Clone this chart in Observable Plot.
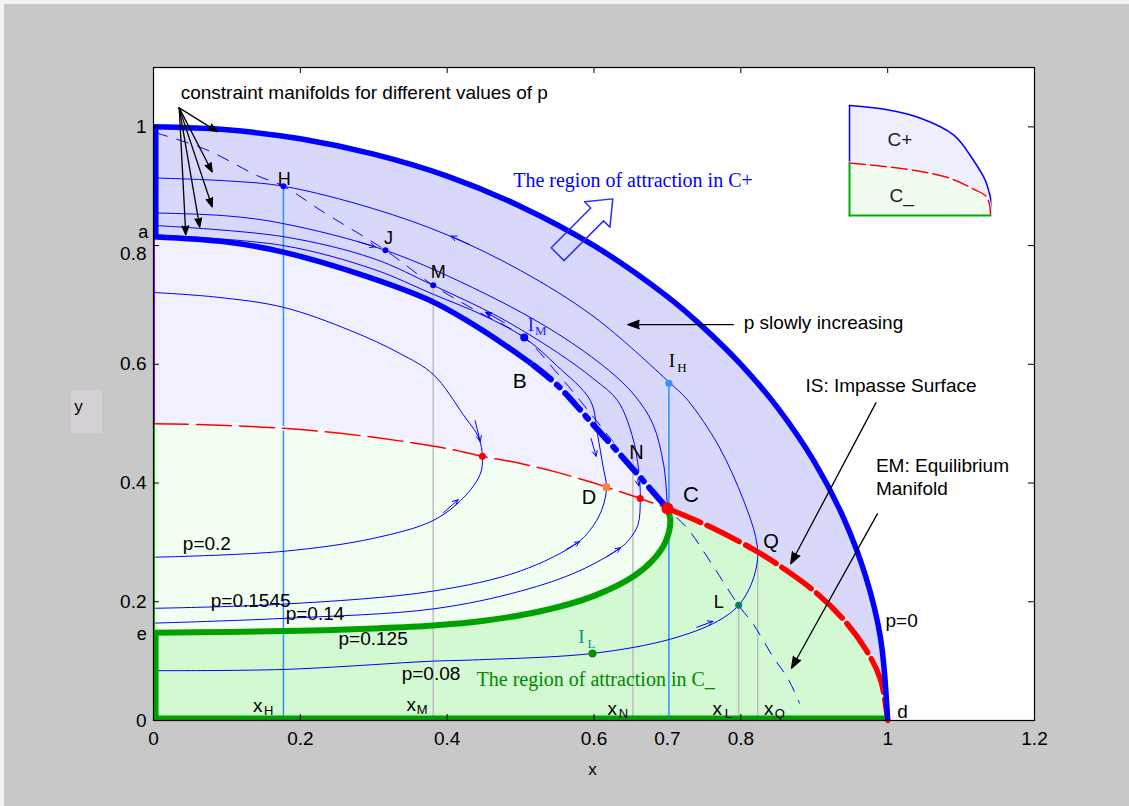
<!DOCTYPE html>
<html>
<head>
<meta charset="utf-8">
<script src="https://cdn.jsdelivr.net/npm/d3@7"></script>
<script src="https://cdn.jsdelivr.net/npm/@observablehq/plot@0.6"></script>
<style>
  html, body { margin: 0; padding: 0; background: #c8c8c8; }
  #wrap { position: relative; width: 1129px; height: 806px; overflow: hidden; background: #c8c8c8; }
  #wrap svg { display: block; overflow: visible; }
  #main { position: absolute; left: 0; top: 0; z-index: 2; }
  #inset { position: absolute; left: 840px; top: 95px; z-index: 3; }
  .edge-top { position: absolute; left: 0; top: 0; width: 1129px; height: 4px; background: #f4f4f4; z-index: 1; }
  .edge-left { position: absolute; left: 0; top: 0; width: 4px; height: 806px; background: #f4f4f4; z-index: 1; }
  .ybox { position: absolute; left: 71px; top: 390px; width: 31px; height: 43px; background: #d5d0d5; z-index: 1; }
</style>
</head>
<body>
<div id="wrap">
  <div class="edge-top"></div>
  <div class="edge-left"></div>
  <div class="ybox"></div>
  <div id="main"></div>
  <div id="inset"></div>
</div>
<script>
// ---------- axes ----------
const xTicks = [0, 0.2, 0.4, 0.6, 0.8, 1, 1.2];
const xTickLabels = [0, 0.2, 0.4, 0.6, 0.7, 0.8, 1, 1.2];
const yTicks = [0, 0.2, 0.4, 0.6, 0.8, 1];
const yTickLabels = [0, 0.2, 0.4, 0.6, 1];
const yTickLabelsLowered = [0.8];

// ---------- manifolds ----------
// p = 0 constraint manifold: outer boundary of the region of attraction in C+
const p0Curve = [[0,1],[0.1,0.995],[0.2,0.98],[0.3,0.954],[0.4,0.917],[0.5,0.866],[0.6,0.8],[0.7,0.714],[0.75,0.661],[0.8,0.6],[0.85,0.527],[0.9,0.436],[0.94,0.341],[0.97,0.243],[0.99,0.141],[1,0]];
// IS: impasse surface, from (0, 0.5) to C
const impasseCurve = [[0,0.5],[0.1,0.497],[0.2,0.49],[0.3,0.477],[0.4,0.458],[0.448,0.445],[0.5,0.433],[0.55,0.418],[0.6,0.4],[0.617,0.393],[0.663,0.374],[0.7,0.357]];
// EM: equilibrium manifold, from C to d
const equilibriumCurve = [[0.7,0.357],[0.75,0.331],[0.8,0.3],[0.823,0.284],[0.85,0.263],[0.9,0.218],[0.94,0.17],[0.97,0.12],[0.99,0.07],[1,0]];
// inner boundary of C+ attraction region: a -> B (solid), B -> C (dash-dot)
const boundaryUpper = [[0,0.815],[0.1,0.806],[0.177,0.789],[0.29,0.748],[0.381,0.705],[0.45,0.656],[0.518,0.598]];
const boundaryUpperDashed = [[0.518,0.598],[0.55,0.565],[0.6,0.497],[0.65,0.428],[0.7,0.357]];
// boundary of the C_ attraction region: e -> C
const boundaryLower = [[0,0.148],[0.1,0.149],[0.2,0.151],[0.3,0.155],[0.381,0.16],[0.45,0.168],[0.527,0.184],[0.6,0.21],[0.654,0.243],[0.68,0.27],[0.697,0.3],[0.704,0.335],[0.7,0.357]];

// constraint manifolds for other values of p (upper branch, tip, lower branch)
const loopP020 = [[0,0.721],[0.087,0.713],[0.177,0.696],[0.268,0.657],[0.336,0.618],[0.381,0.583],[0.422,0.515],[0.443,0.476],[0.448,0.444],[0.445,0.415],[0.422,0.375],[0.381,0.337],[0.3,0.307],[0.177,0.285],[0,0.275]];
const loopP01545 = [[0,0.818],[0.177,0.8],[0.3,0.76],[0.381,0.718],[0.45,0.682],[0.505,0.645],[0.55,0.597],[0.595,0.539],[0.605,0.48],[0.612,0.43],[0.617,0.393],[0.612,0.36],[0.6,0.33],[0.578,0.3],[0.5,0.252],[0.381,0.218],[0.177,0.196],[0,0.189]];
const loopP014 = [[0,0.834],[0.177,0.815],[0.3,0.778],[0.381,0.733],[0.47,0.68],[0.55,0.62],[0.6,0.575],[0.632,0.539],[0.652,0.48],[0.661,0.42],[0.663,0.374],[0.66,0.33],[0.648,0.305],[0.636,0.291],[0.58,0.252],[0.5,0.218],[0.381,0.188],[0.177,0.172],[0,0.164]];
const upperP0125 = [[0,0.855],[0.1,0.85],[0.177,0.837],[0.316,0.792],[0.45,0.72],[0.55,0.652],[0.62,0.59],[0.655,0.548],[0.68,0.5],[0.695,0.43],[0.7,0.357]];
const loopP008 = [[0,0.914],[0.1,0.909],[0.177,0.9],[0.3,0.862],[0.4,0.818],[0.5,0.758],[0.6,0.68],[0.704,0.568],[0.728,0.539],[0.77,0.462],[0.804,0.37],[0.82,0.31],[0.823,0.275],[0.815,0.232],[0.797,0.194],[0.768,0.167],[0.704,0.137],[0.598,0.113],[0.436,0.102],[0.381,0.1],[0.177,0.086],[0,0.084]];
// path followed while p slowly increases
const driftPath = [[0.003,0.99],[0.073,0.961],[0.141,0.918],[0.177,0.9],[0.232,0.856],[0.316,0.792],[0.381,0.733],[0.44,0.69],[0.505,0.645],[0.55,0.585],[0.6,0.51],[0.65,0.432],[0.7,0.357],[0.727,0.324],[0.755,0.274],[0.797,0.194],[0.817,0.162],[0.845,0.105],[0.864,0.071],[0.88,0.029]];

// projections of marked points onto the x axis
const blueDrops = [[0.177,0.9],[0.702,0.568]];
const grayDrops = [[0.381,0.733],[0.653,0.45],[0.797,0.194],[0.823,0.27]];

// marked points
const bluePoints = [[0.177,0.9],[0.316,0.792],[0.381,0.733]];
const pointIM = [[0.505,0.645]];
const pointIH = [[0.702,0.568]];
const impassePoints = [[0.448,0.445],[0.663,0.374]];
const pointD = [[0.617,0.393]];
const pointC = [[0.7,0.357]];
const pointL = [[0.797,0.194]];
const pointIL = [[0.598,0.113]];

// flow direction arrowheads: [x1, y1, x2, y2]
const flowArrows = [[0.438,0.505,0.445,0.47],[0.395,0.35,0.415,0.372],[0.596,0.475,0.603,0.445],[0.562,0.288,0.58,0.301],[0.657,0.425,0.661,0.395],[0.618,0.276,0.636,0.291],[0.74,0.157,0.762,0.167],[0.43,0.802,0.405,0.816],[0.28,0.806,0.302,0.798]];
const solidFlowArrows = [[0.478,0.67,0.452,0.688]];

// annotation pointers
const manifoldPointer = [0.035,1.032];
const manifoldTargets = [[0.087,0.992],[0.08,0.924],[0.08,0.865],[0.063,0.831],[0.044,0.818]];
const noteArrows = [[0.79,0.667,0.646,0.667],[0.984,0.535,0.868,0.264],[0.986,0.348,0.869,0.088]];
// outline of the hollow arrow leaving C+
const outwardArrow = [[0.5417,0.7963],[0.5591,0.7747],[0.6131,0.8416],[0.6217,0.831],[0.6256,0.8787],[0.5871,0.8738],[0.5956,0.8632],[0.5417,0.7963]];

// text
const sansNotes = [
  {t:"constraint manifolds for different values of p", x:0.037, y:1.057},
  {t:"p slowly increasing", x:0.804, y:0.669},
  {t:"IS: Impasse Surface", x:0.888, y:0.564},
  {t:"EM: Equilibrium", x:0.984, y:0.429},
  {t:"Manifold", x:0.984, y:0.39},
  {t:"p=0", x:0.997, y:0.167},
  {t:"p=0.2", x:0.04, y:0.297},
  {t:"p=0.1545", x:0.078, y:0.201},
  {t:"p=0.14", x:0.18, y:0.179},
  {t:"p=0.125", x:0.252, y:0.137},
  {t:"p=0.08", x:0.338, y:0.079},
  {t:"d", x:1.013, y:0.015}
];
const pointNames = [
  {t:"H", x:0.178, y:0.912, s:18},
  {t:"J", x:0.32, y:0.813, s:18},
  {t:"M", x:0.388, y:0.755, s:18},
  {t:"B", x:0.499, y:0.571, s:21},
  {t:"N", x:0.658, y:0.451, s:20},
  {t:"D", x:0.593, y:0.375, s:20},
  {t:"C", x:0.732, y:0.38, s:22},
  {t:"Q", x:0.841, y:0.301, s:20},
  {t:"L", x:0.77, y:0.199, s:18},
  {t:"a", x:-0.014, y:0.823, s:18},
  {t:"e", x:-0.016, y:0.145, s:18}
];
const xProjections = [
  {t:"x", sub:"H", x:0.142, y:0.024},
  {t:"x", sub:"M", x:0.351, y:0.027},
  {t:"x", sub:"N", x:0.625, y:0.02},
  {t:"x", sub:"L", x:0.768, y:0.02},
  {t:"x", sub:"Q", x:0.838, y:0.019}
];
const impasseNames = [
  {t:"I", sub:"M", x:0.514, y:0.666, c:"#2222ff"},
  {t:"I", sub:"H", x:0.706, y:0.605, c:"#000000"},
  {t:"I", sub:"L", x:0.583, y:0.14, c:"#109090"}
];
const regionNotes = [
  {t:"The region of attraction in C+", x:0.49, y:0.91, c:"#0000ff"},
  {t:"The region of attraction in C_", x:0.44, y:0.069, c:"#008800"}
];
const axisNames = [{t:"x", x:0.598, y:-0.083}, {t:"y", x:-0.102, y:0.529}];

// ---------- inset key ----------
const insetOuter = [[0,1],[0.26,0.963],[0.5,0.886],[0.74,0.73],[0.88,0.5],[0.964,0.317],[0.99,0.21],[1,0.16],[1,0]];
const insetImpasse = [[0,0.477],[0.38,0.425],[0.69,0.348],[0.88,0.24],[0.976,0.163],[1,0.01]];
const insetNames = [{t:"C+", x:0.357, y:0.686}, {t:"C_", x:0.37, y:0.18}];

// ---------- helpers ----------
const X = d => d[0], Y = d => d[1];
const path = (data, o) => Plot.line(data, {x: X, y: Y, curve: "catmull-rom", ...o});
const poly = (data, fill) => Plot.line(data, {x: X, y: Y, fill, stroke: "none"});
const edge = (data, o) => Plot.line(data, {x: X, y: Y, strokeLinecap: "butt", clip: true, ...o});
const seg = (data, o) => Plot.arrow(data, {x1: d => d[0], y1: d => d[1], x2: d => d[2], y2: d => d[3], ...o});

const lowerReversed = boundaryLower.slice().reverse();
const bandRegion = [...p0Curve, [0, 0]];
const innerRegion = [...boundaryUpper, ...boundaryUpperDashed.slice(1), ...lowerReversed.slice(1)];
const lowerRegion = [...impasseCurve, ...lowerReversed.slice(1)];
const attractRegion = [[0, 0], ...boundaryLower, ...equilibriumCurve.slice(1)];
const leftBlue = [[0, boundaryUpper[0][1]], p0Curve[0]];
const leftPurple = [impasseCurve[0], [0, boundaryUpper[0][1]]];
const leftGreenThin = [[0, boundaryLower[0][1]], impasseCurve[0]];
const leftGreen = [[0, 0], [0, boundaryLower[0][1]]];
const bottomGreen = [[0, 0], p0Curve[p0Curve.length - 1]];
const sans = "'Liberation Sans', Arial, Helvetica, sans-serif";
const serif = "'Liberation Serif', 'Times New Roman', serif";

const main = Plot.plot({
  width: 1129, height: 806,
  marginLeft: 153, marginRight: 95, marginTop: 67, marginBottom: 86,
  x: {domain: [0, 1.2]},
  y: {domain: [0, 1.1]},
  style: {background: "transparent", fontFamily: sans, fontSize: "19px", color: "black"},
  marks: [
    Plot.frame({fill: "white", stroke: "none"}),
    // regions
    poly(bandRegion, "#d8d8fa"),
    poly(innerRegion, "#f0f0fe"),
    poly(lowerRegion, "#f2fef2"),
    poly(attractRegion, "#d2f9d2"),
    // projections
    Plot.ruleX(grayDrops, {x: X, y1: 0, y2: Y, stroke: "#bdbdbd", strokeWidth: 1.5}),
    Plot.ruleX(blueDrops, {x: X, y1: 0, y2: Y, stroke: "#2f8fff", strokeWidth: 1.5}),
    // thin constraint manifolds
    path(loopP020, {stroke: "#0000ff", strokeWidth: 1}),
    path(loopP01545, {stroke: "#0000ff", strokeWidth: 1}),
    path(loopP014, {stroke: "#0000ff", strokeWidth: 1}),
    path(upperP0125, {stroke: "#0000ff", strokeWidth: 1}),
    path(loopP008, {stroke: "#0000ff", strokeWidth: 1}),
    path(driftPath, {stroke: "#0000ff", strokeWidth: 1, strokeDasharray: "12,10"}),
    seg(flowArrows, {stroke: "#0000ff", strokeWidth: 1, headLength: 9, headAngle: 50}),
    seg(solidFlowArrows, {stroke: "#0000ff", fill: "#0000ff", strokeWidth: 1, headLength: 10, headAngle: 45}),
    // impasse surface
    path(impasseCurve, {stroke: "white", strokeWidth: 5, strokeDasharray: "8,35", strokeDashoffset: 8}),
    path(impasseCurve, {stroke: "#ff0000", strokeWidth: 1.5, strokeDasharray: "35,8"}),
    // equilibrium manifold
    path(equilibriumCurve, {stroke: "white", strokeWidth: 5.5}),
    path(equilibriumCurve, {stroke: "#ff0000", strokeWidth: 5.5, strokeDasharray: "36,7"}),
    // C_ region boundary
    path(boundaryLower, {stroke: "#00a000", strokeWidth: 6, strokeLinecap: "butt"}),
    edge(bottomGreen, {stroke: "#00a000", strokeWidth: 10}),
    edge(leftGreen, {stroke: "#00a000", strokeWidth: 10}),
    edge(leftGreenThin, {stroke: "#00c000", strokeWidth: 3}),
    edge(leftPurple, {stroke: "#9900ff", strokeWidth: 3}),
    // C+ region boundary
    path(p0Curve, {stroke: "#0000ff", strokeWidth: 5.5, strokeLinecap: "butt"}),
    edge(leftBlue, {stroke: "#0000ff", strokeWidth: 10}),
    path(boundaryUpper, {stroke: "#0000ff", strokeWidth: 5.5, strokeLinecap: "butt"}),
    path(boundaryUpperDashed, {stroke: "#f4f4ff", strokeWidth: 6}),
    path(boundaryUpperDashed, {stroke: "#0000ff", strokeWidth: 6, strokeDasharray: "22,8,4,8"}),
    // points
    Plot.dot(bluePoints, {x: X, y: Y, r: 3, fill: "#0000ff"}),
    Plot.dot(pointIM, {x: X, y: Y, r: 4, fill: "#0000ff"}),
    Plot.dot(pointIH, {x: X, y: Y, r: 3.5, fill: "#2f8fff"}),
    Plot.dot(impassePoints, {x: X, y: Y, r: 3.5, fill: "#ff0000"}),
    Plot.dot(pointD, {x: X, y: Y, r: 4, symbol: "square", fill: "#ff8040"}),
    Plot.dot(pointC, {x: X, y: Y, r: 6, fill: "#ff0000"}),
    Plot.dot(pointL, {x: X, y: Y, r: 3.5, fill: "#008070"}),
    Plot.dot(pointIL, {x: X, y: Y, r: 4, fill: "#009000"}),
    // annotations
    seg(manifoldTargets.map(t => [...manifoldPointer, ...t]), {stroke: "black", fill: "black", strokeWidth: 1.3, headLength: 11, headAngle: 40}),
    seg(noteArrows, {stroke: "black", fill: "black", strokeWidth: 1.3, headLength: 14, headAngle: 40}),
    Plot.line(outwardArrow, {x: X, y: Y, stroke: "#2a2aff", strokeWidth: 1.5}),
    Plot.text(sansNotes, {x: "x", y: "y", text: "t", textAnchor: "start", fontSize: 19, fill: "black"}),
    Plot.text(pointNames, {x: "x", y: "y", text: "t", fontSize: d => d.s, fill: "black"}),
    Plot.text(xProjections, {x: "x", y: "y", text: "t", fontSize: 19, fill: "black"}),
    Plot.text(xProjections, {x: "x", y: "y", text: "sub", fontSize: 13, dx: 11, dy: 5, fill: "black"}),
    Plot.text(impasseNames, {x: "x", y: "y", text: "t", fontSize: 19, fontFamily: serif, fill: "c"}),
    Plot.text(impasseNames, {x: "x", y: "y", text: "sub", fontSize: 13, fontFamily: serif, dx: 10, dy: 6, fill: "c"}),
    Plot.text(regionNotes, {x: "x", y: "y", text: "t", textAnchor: "start", fontSize: 20, fontFamily: serif, fill: "c"}),
    Plot.text(axisNames, {x: "x", y: "y", text: "t", fontSize: 17, fill: "black"}),
    // axes: inward ticks on all sides, labels outside
    Plot.tickX(xTicks, {x: d => d, insetTop: 647, stroke: "black"}),
    Plot.tickX(xTicks, {x: d => d, insetBottom: 647, stroke: "black"}),
    Plot.tickY(yTicks, {y: d => d, insetRight: 875, stroke: "black"}),
    Plot.tickY(yTicks, {y: d => d, insetLeft: 875, stroke: "black"}),
    Plot.axisX({ticks: xTickLabels, tickSize: 0, tickPadding: 11, tickFormat: d => `${d}`, label: null, fontSize: 19}),
    Plot.axisY({ticks: yTickLabels, tickSize: 0, tickPadding: 7, tickFormat: d => `${d}`, label: null, fontSize: 19}),
    Plot.axisY({ticks: yTickLabelsLowered, tickSize: 0, tickPadding: 7, tickFormat: d => `${d}`, label: null, fontSize: 19, dy: 8}),
    Plot.frame({stroke: "black", strokeWidth: 1.2})
  ]
});
document.getElementById("main").appendChild(main);

// ---------- inset key plot ----------
const inset = Plot.plot({
  width: 160, height: 130,
  marginLeft: 9, marginRight: 10, marginTop: 10, marginBottom: 10,
  x: {domain: [0, 1], axis: null},
  y: {domain: [0, 1], axis: null},
  style: {background: "transparent", fontFamily: sans, fontSize: "19px"},
  marks: [
    poly([...insetOuter, [0, 0]], "#eeeefc"),
    poly([[0, 0], ...insetImpasse], "#f0fcf0"),
    path(insetOuter, {stroke: "#0000ff", strokeWidth: 1.5}),
    Plot.line([[0, insetImpasse[0][1]], insetOuter[0]], {x: X, y: Y, stroke: "#0000ff", strokeWidth: 1.5}),
    path(insetImpasse, {stroke: "white", strokeWidth: 3}),
    path(insetImpasse, {stroke: "#ff0000", strokeWidth: 1.5, strokeDasharray: "16,5"}),
    Plot.line([[0, 0], [1, 0]], {x: X, y: Y, stroke: "#00b000", strokeWidth: 2}),
    Plot.line([[0, 0], [0, insetImpasse[0][1]]], {x: X, y: Y, stroke: "#00b000", strokeWidth: 2}),
    Plot.text(insetNames, {x: "x", y: "y", text: "t", fontSize: 19, fill: "#222"})
  ]
});
document.getElementById("inset").appendChild(inset);
</script>
</body>
</html>
